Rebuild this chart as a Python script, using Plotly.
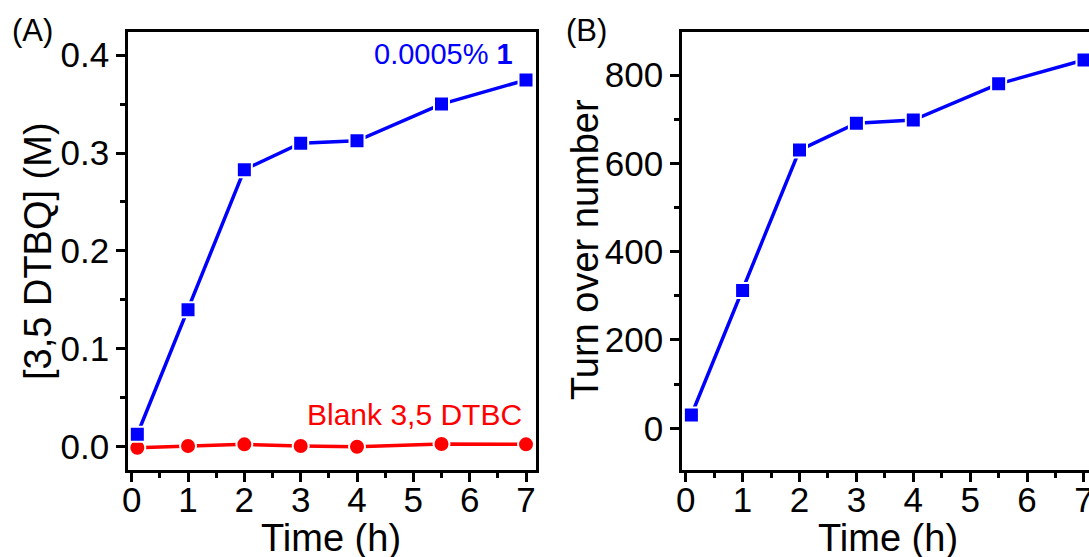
import plotly.graph_objects as go

# ---- data ----
time_h = [0.1, 1, 2, 3, 4, 5.5, 7]
dtbq_cat = [0.0127, 0.140, 0.283, 0.310, 0.3125, 0.350, 0.3746]
dtbq_blank = [-0.001, 0.0007, 0.0024, 0.0007, 0.0, 0.0027, 0.0024]
turnover = [30, 312, 630, 691, 698, 780, 834]

label_cat = "0.0005% <b>1</b>"
label_blank = "Blank 3,5 DTBC"
xtitle = "Time (h)"
ytitle_a = "[3,5 DTBQ] (M)"
ytitle_b = "Turn over number"

BLUE = "#0000FF"
RED = "#FF0000"
FONT = "Liberation Sans, Arial, sans-serif"
W, H = 1089, 557

fig = go.Figure()

fig.add_trace(go.Scatter(
    x=time_h, y=dtbq_blank, mode="lines+markers", xaxis="x", yaxis="y",
    line=dict(color=RED, width=3.5),
    marker=dict(symbol="circle", size=16, color=RED, line=dict(color="white", width=2)),
    showlegend=False))
fig.add_trace(go.Scatter(
    x=time_h, y=dtbq_cat, mode="lines+markers", xaxis="x", yaxis="y",
    line=dict(color=BLUE, width=3.5),
    marker=dict(symbol="square", size=15, color=BLUE, line=dict(color="white", width=2)),
    showlegend=False))
fig.add_trace(go.Scatter(
    x=time_h, y=turnover, mode="lines+markers", xaxis="x2", yaxis="y2",
    line=dict(color=BLUE, width=3.5),
    marker=dict(symbol="square", size=15, color=BLUE, line=dict(color="white", width=2)),
    showlegend=False))

def px_x(v):
    return v / W

def px_y(v):
    return 1 - v / H

axis_common = dict(
    showline=True, linecolor="black", linewidth=3,
    ticks="outside", ticklen=9, tickwidth=3, tickcolor="black",
    showgrid=False, zeroline=False,
    tickfont=dict(family=FONT, size=35, color="black"),
)

xa_minor = dict(dtick=0.5, ticks="outside", ticklen=5, tickwidth=3, tickcolor="black", showgrid=False)

fig.update_layout(
    width=W, height=H,
    margin=dict(l=0, r=0, t=0, b=0),
    paper_bgcolor="white", plot_bgcolor="white",
    font=dict(family=FONT, color="black"),
    xaxis=dict(axis_common, domain=[px_x(128.2), px_x(535.8)], range=[-0.062, 7.174],
               dtick=1, tick0=0, mirror=True, anchor="y", ticklabelstandoff=-12,
               minor=xa_minor, automargin=False),
    yaxis=dict(axis_common, domain=[px_y(470.2), px_y(32.2)], range=[-0.024, 0.4234],
               dtick=0.1, tick0=0, tickformat=".1f", mirror=True, anchor="x",
               minor=dict(dtick=0.05, ticks="outside", ticklen=5, tickwidth=3, tickcolor="black", showgrid=False),
               automargin=False),
    xaxis2=dict(axis_common, domain=[px_x(682.2), 1.0], range=[-0.0615, 7.088],
                dtick=1, tick0=0, mirror=True, anchor="y2", ticklabelstandoff=-12,
                ticklabeloverflow="allow",
                minor=xa_minor, automargin=False),
    yaxis2=dict(axis_common, domain=[px_y(470.2), px_y(32.2)], range=[-95, 897],
                dtick=200, tick0=0, mirror=False, anchor="x2",
                minor=dict(dtick=100, ticks="outside", ticklen=5, tickwidth=3, tickcolor="black", showgrid=False),
                automargin=False),
)

def note(x, y, text, size, color="black", xanchor="center", angle=0):
    fig.add_annotation(x=px_x(x), y=px_y(y), xref="paper", yref="paper", text=text,
                       showarrow=False, xanchor=xanchor, yanchor="middle", textangle=angle,
                       font=dict(family=FONT, size=size, color=color))

# axis titles
note(331, 538, xtitle, 38)
note(888, 538, xtitle, 38)
note(38, 251, ytitle_a, 38, angle=-90)
note(585, 250, ytitle_b, 38, angle=-90)

# series labels and panel letters
note(515, 54, label_cat, 29, BLUE, xanchor="right")
note(524, 414, label_blank, 30, RED, xanchor="right")
note(10, 31, "(A)", 31, xanchor="left")
note(564, 31, "(B)", 31, xanchor="left")

fig.write_html("out.html")
